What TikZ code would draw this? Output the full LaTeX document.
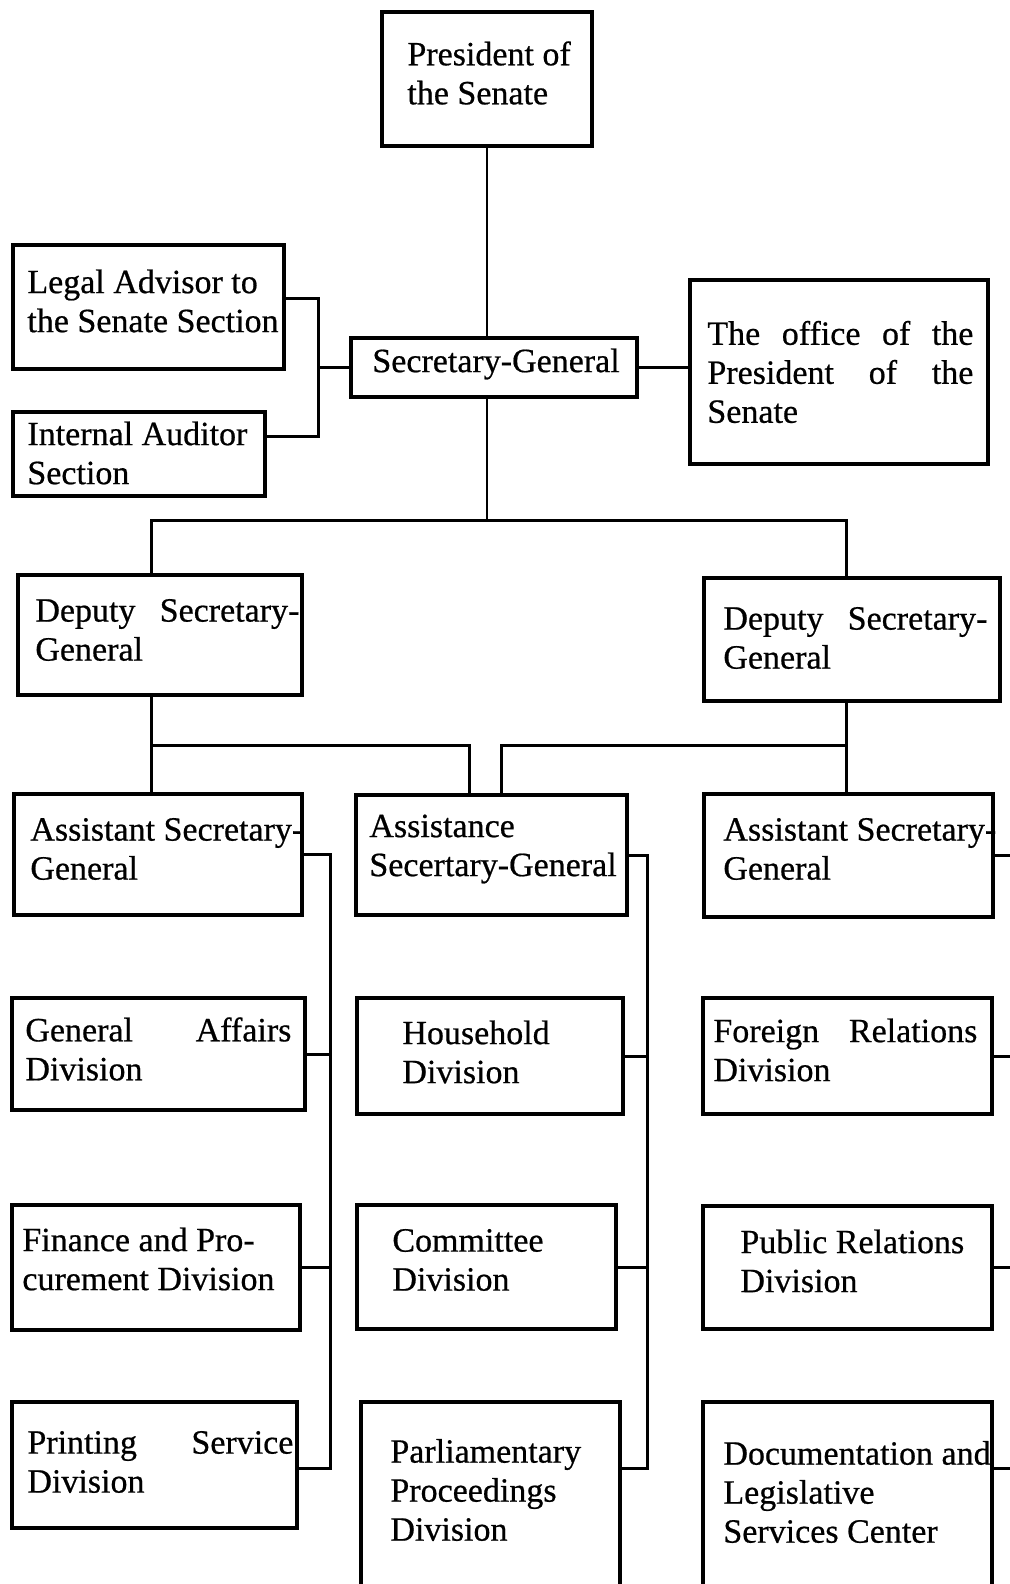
\documentclass[tikz,border=0pt]{standalone}
\usepackage{fontspec}
\setmainfont{Liberation Serif}[FakeBold=0.6]
\usetikzlibrary{fit}

\tikzset{
  box/.style={draw, line width=1.7pt, inner sep=0pt},
  txt/.style={anchor=west, align=left, inner sep=0pt, font=\fontsize{17}{19.5}\selectfont},
  link/.style={line width=1.5pt},
  thinlink/.style={line width=1.2pt}
}

\begin{document}
\begin{tikzpicture}[x=0.5pt, y=-0.5pt]
    \useasboundingbox (0,0) rectangle (1010,1584);
    \clip (0,0) rectangle (1010,1584);
    % top
    \node[box, fit={(382,12) (592,146)}] (pres) {};
    \node[txt] (presT) at (407,73) {President of\\the Senate};
    \node[box, fit={(13,245) (284,369)}] (legal) {};
    \node[txt] (legalT) at (27,301) {Legal Advisor to\\the Senate Section};
    \node[box, fit={(13,412) (265,496)}] (audit) {};
    \node[txt] (auditT) at (27,453) {Internal Auditor\\Section};
    \node[box, fit={(351,338) (637,397)}] (secgen) {};
    \node[txt] (secgenT) at (372,364) {Secretary-General};
    \node[box, fit={(690,280) (988,464)}] (office) {};
    \node[txt] (officeT) at (707,372) {\makebox[133pt][s]{The office of the}\\\makebox[133pt][s]{President of the}\\Senate};
    % deputies
    \node[box, fit={(18,575) (302,695)}] (depL) {};
    \node[txt] (depLT) at (35,630) {\makebox[132pt][s]{Deputy Secretary-}\\General};
    \node[box, fit={(704,578) (1000,701)}] (depR) {};
    \node[txt] (depRT) at (723,638) {\makebox[132pt][s]{Deputy Secretary-}\\General};
    % assistants
    \node[box, fit={(14,794) (302,915)}] (asstL) {};
    \node[txt] (asstLT) at (30,849) {Assistant Secretary-\\General};
    \node[box, fit={(356,795) (627,915)}] (asstM) {};
    \node[txt] (asstMT) at (369,849) {Assistance\\Secertary-General};
    \node[box, fit={(704,794) (993,917)}] (asstR) {};
    \node[txt] (asstRT) at (723,849) {Assistant Secretary-\\General};
    % divisions
    \node[box, fit={(12,998) (305,1110)}] (genaff) {};
    \node[txt] (genaffT) at (25,1049) {\makebox[133pt][s]{General Affairs}\\Division};
    \node[box, fit={(357,998) (623,1114)}] (house) {};
    \node[txt] (houseT) at (402,1052) {Household\\Division};
    \node[box, fit={(703,998) (992,1114)}] (foreign) {};
    \node[txt] (foreignT) at (713,1050) {\makebox[132pt][s]{Foreign Relations}\\Division};
    \node[box, fit={(12,1205) (300,1330)}] (finance) {};
    \node[txt] (financeT) at (22,1259) {Finance and Pro-\\curement Division};
    \node[box, fit={(357,1205) (616,1329)}] (committee) {};
    \node[txt] (committeeT) at (392,1260) {Committee\\Division};
    \node[box, fit={(703,1206) (992,1329)}] (public) {};
    \node[txt] (publicT) at (740,1261) {Public Relations\\Division};
    \node[box, fit={(12,1402) (297,1528)}] (printing) {};
    \node[txt] (printingT) at (27,1462) {\makebox[133pt][s]{Printing Service}\\Division};
    \node[box, fit={(361,1402) (620,1586)}] (parl) {};
    \node[txt] (parlT) at (390,1490) {Parliamentary\\Proceedings\\Division};
    \node[box, fit={(703,1402) (992,1586)}] (doc) {};
    \node[txt] (docT) at (723,1492) {Documentation and\\Legislative\\Services Center};
    %
    \coordinate (busL) at (151,520);
    \coordinate (busR) at (846,520);
    \coordinate (legalJ) at (318,298);
    \coordinate (auditJ) at (318,436);
    \coordinate (dl) at (151,745);
    \coordinate (ml) at (469,745);
    \coordinate (mr) at (501,745);
    \coordinate (dr) at (846,745);
    \coordinate (spL) at (330,1468);
    \coordinate (spM) at (647,1468);
    \coordinate (spR) at (1020,1468);
    % connectors
    \draw[thinlink] (pres.south) -- (pres.south |- secgen.north);
    \draw[thinlink] (pres.south |- secgen.south) -- (pres.south |- busL);
    \draw[link] (depL.north -| busL) -- (busL) -- (busR) -- (depR.north -| busR);
    \draw[link] (legal.east |- legalJ) -- (legalJ) -- (auditJ) -- (audit.east |- auditJ);
    \draw[link] (secgen.west) -- (secgen.west -| legalJ);
    \draw[link] (secgen.east) -- (office.west |- secgen.east);
    \draw[link] (depL.south -| dl) -- (asstL.north -| dl);
    \draw[link] (dl) -- (ml) -- (asstM.north -| ml);
    \draw[link] (depR.south -| dr) -- (asstR.north -| dr);
    \draw[link] (dr) -- (mr) -- (asstM.north -| mr);
    %
    \draw[link] (asstL.east) -- (asstL.east -| spL) -- (spL) -- (printing.east |- spL);
    \foreach \n in {genaff,finance} {
      \draw[link] (\n.east) -- (\n.east -| spL);
    }
    \draw[link] (asstM.east) -- (asstM.east -| spM) -- (spM) -- (parl.east |- spM);
    \foreach \n in {house,committee} {
      \draw[link] (\n.east) -- (\n.east -| spM);
    }
    \foreach \n in {asstR,foreign,public} {
      \draw[link] (\n.east) -- (\n.east -| spR);
    }
    \draw[link] (doc.east |- spR) -- (spR);
  \end{tikzpicture}
\end{document}
